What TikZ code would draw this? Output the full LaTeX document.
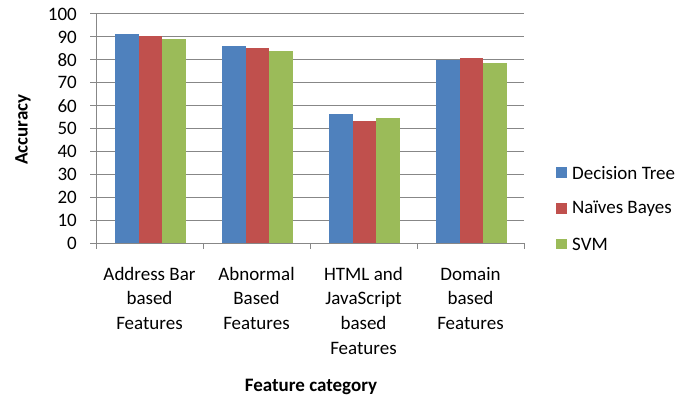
\documentclass[tikz,border=0pt]{standalone}
\usepackage{fontspec}
\setmainfont{Carlito}
\usetikzlibrary{calc,positioning}
\definecolor{dtblue}{HTML}{4F81BD}
\definecolor{nbred}{HTML}{C0504D}
\definecolor{svmgreen}{HTML}{9BBB59}
\definecolor{gridgray}{HTML}{878787}
\tikzset{every node/.style={align=center,inner sep=0pt}}

\begin{document}
\begin{tikzpicture}[x=1pt,y=1pt,
  gridline/.style={draw=gridgray,line width=1pt},
  ticklabel/.style={font=\fontsize{19}{22}\selectfont,anchor=east},
  catlabel/.style={font=\fontsize{19}{24.7}\selectfont,anchor=north},
  legendbox/.style={minimum size=10.5pt},
  legendtext/.style={font=\fontsize{19}{22}\selectfont,anchor=west,right=5pt of #1},
  axistitle/.style={font=\fontsize{19}{22}\selectfont\bfseries}]
\useasboundingbox (0,0) rectangle (694,398);

% plot area, 0 at (96,154.7), 2.293pt per unit
\begin{scope}[shift={(96,154.7)}]
\foreach \v in {10,20,...,100}
  \draw[gridline] (0,\v*2.293) -- (428,\v*2.293);
\foreach \i/\a/\b/\c in {0/91.3/90.5/89.2, 1/86/85.3/84, 2/56.5/53.2/54.6, 3/79.9/80.8/78.8} {
  \fill[dtblue] (\i*107+19,0) rectangle ++(23.5,\a*2.293);
  \fill[nbred] (\i*107+42.5,0) rectangle ++(23.5,\b*2.293);
  \fill[svmgreen] (\i*107+66,0) rectangle ++(23.5,\c*2.293);
}
\draw[gridline] (0,0) -- (0,100*2.293);
\draw[gridline] (0,0) -- (428,0);
\foreach \v in {0,10,...,100} {
  \draw[gridline] (-6,\v*2.293) -- (0,\v*2.293);
  \node[ticklabel] (tick\v) at (-19,\v*2.293) {\v};
}
\foreach \i in {0,...,4}
  \draw[gridline] (\i*107,0) -- (\i*107,-6);
\foreach \i/\txt in {0/{Address Bar\\based\\Features}, 1/{Abnormal\\Based\\Features},
    2/{HTML and\\JavaScript\\based\\Features}, 3/{Domain\\based\\Features}}
  \node[catlabel] (cat\i) at (\i*107+53.5,-23.5) {\txt};
\end{scope}

\node[axistitle,rotate=90] (ylab) at (23,268.5) {Accuracy};
\node[axistitle] (xlab) at (311,11) {Feature category};

% legend
\node[legendbox,fill=dtblue] (kdt) at (561.5,225.3) {};
\node[legendbox,fill=nbred] (knb) at (561.5,189.3) {};
\node[legendbox,fill=svmgreen] (ksvm) at (561.5,153.8) {};
\node[legendtext=kdt] (ldt) {Decision Tree};
\node[legendtext=knb] (lnb) {Naïves Bayes};
\node[legendtext=ksvm] (lsvm) {SVM};
\end{tikzpicture}
\end{document}
